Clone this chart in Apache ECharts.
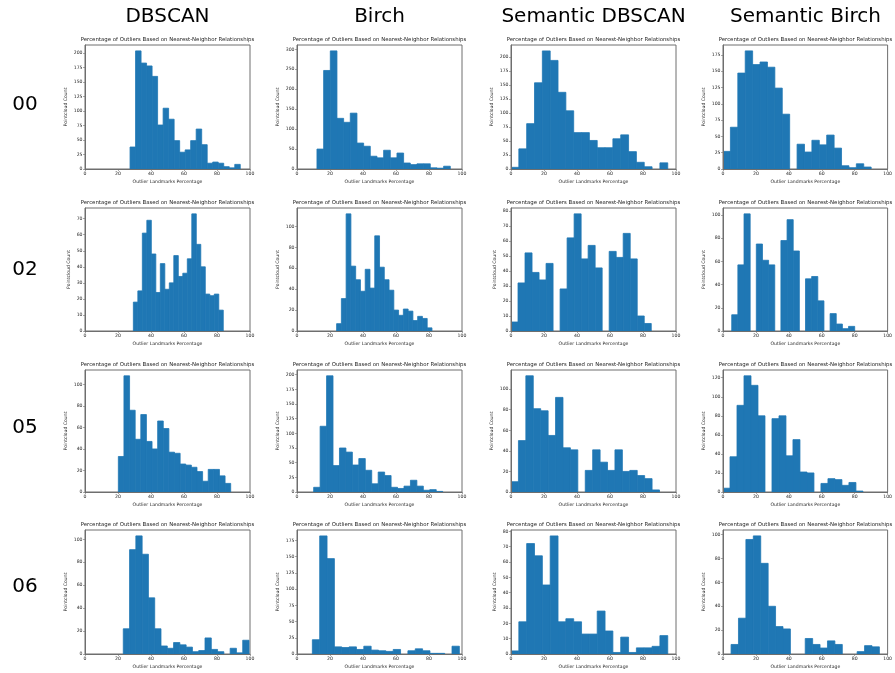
<!DOCTYPE html>
<html>
<head>
<meta charset="utf-8">
<script src="https://cdn.jsdelivr.net/npm/echarts@6/dist/echarts.min.js"></script>
<style>
  html, body { margin: 0; padding: 0; background: #ffffff; }
  #chart { width: 895px; height: 673px; }
</style>
</head>
<body>
<div id="chart"></div>
<script>
// Column (method) and row (sequence) labels
const methods = ['DBSCAN', 'Birch', 'Semantic DBSCAN', 'Semantic Birch'];
const sequences = ['00', '02', '05', '06'];
const subplotTitle = 'Percentage of Outliers Based on Nearest-Neighbor Relationships';
const xAxisTitle = 'Outlier Landmarks Percentage';
const yAxisTitle = 'Pointcloud Count';
const xTicks = [0, 20, 40, 60, 80, 100];

// Each histogram: [first edge, last edge] split into 20 equal bins, and the bin counts
const seq00DbscanRange = [27.3, 94.1];
const seq00DbscanCounts = [38, 204, 183, 178, 160, 76, 105, 86, 49, 29, 33, 49, 69, 42, 10, 12, 10, 4, 2, 8];
const seq00BirchRange = [12.1, 92.9];
const seq00BirchCounts = [50, 247, 296, 127, 117, 140, 65, 57, 32, 28, 47, 28, 40, 15, 11, 13, 13, 3, 2, 7];
const seq00SemDbscanRange = [0, 95];
const seq00SemDbscanCounts = [3, 36, 81, 154, 211, 194, 137, 104, 65, 65, 51, 38, 38, 54, 61, 31, 12, 4, 0, 11];
const seq00SemBirchRange = [0, 90];
const seq00SemBirchCounts = [27, 64, 147, 181, 160, 164, 156, 124, 84, 0, 38, 26, 44, 37, 52, 32, 5, 2, 8, 3];

const seq02DbscanRange = [29.3, 83.8];
const seq02DbscanCounts = [18, 25, 61, 69, 48, 24, 42, 26, 30, 47, 34, 36, 45, 73, 54, 40, 23, 22, 23, 13];
const seq02BirchRange = [24.0, 81.8];
const seq02BirchCounts = [7, 31, 112, 62, 49, 38, 59, 41, 91, 61, 49, 39, 20, 15, 21, 19, 10, 14, 12, 3];
const seq02SemDbscanRange = [0, 85];
const seq02SemDbscanCounts = [6, 32, 52, 39, 34, 45, 0, 28, 62, 78, 48, 57, 42, 0, 53, 49, 65, 48, 10, 5];
const seq02SemBirchRange = [5.3, 80];
const seq02SemBirchCounts = [14, 57, 101, 0, 75, 61, 57, 0, 78, 96, 69, 0, 45, 47, 26, 0, 15, 6, 2, 4];

const seq05DbscanRange = [20.2, 88.3];
const seq05DbscanCounts = [33, 108, 76, 49, 72, 47, 40, 66, 59, 37, 36, 26, 25, 23, 19, 10, 21, 21, 15, 8];
const seq05BirchRange = [10.1, 88.3];
const seq05BirchCounts = [8, 112, 198, 45, 75, 68, 46, 57, 37, 14, 34, 28, 8, 6, 10, 20, 10, 3, 4, 1];
const seq05SemDbscanRange = [0, 90];
const seq05SemDbscanCounts = [10, 50, 113, 81, 79, 55, 92, 43, 41, 0, 21, 41, 29, 21, 41, 20, 21, 16, 13, 2];
const seq05SemBirchRange = [0, 85];
const seq05SemBirchCounts = [4, 37, 91, 122, 112, 80, 0, 77, 80, 38, 55, 21, 20, 0, 9, 14, 13, 7, 10, 1];

const seq06DbscanRange = [23.2, 99.4];
const seq06DbscanCounts = [22, 91, 103, 87, 49, 22, 7, 5, 10, 8, 6, 2, 3, 14, 4, 2, 0, 5, 1, 12];
const seq06BirchRange = [9.3, 98.4];
const seq06BirchCounts = [22, 182, 147, 11, 10, 11, 7, 12, 6, 5, 4, 7, 0, 5, 8, 5, 1, 1, 0, 12];
const seq06SemDbscanRange = [0, 95];
const seq06SemDbscanCounts = [2, 21, 72, 64, 45, 77, 21, 23, 21, 13, 13, 28, 15, 1, 11, 1, 4, 4, 5, 12];
const seq06SemBirchRange = [4.9, 95];
const seq06SemBirchCounts = [8, 30, 96, 99, 76, 40, 23, 21, 0, 0, 13, 8, 5, 11, 8, 0, 0, 2, 7, 6];

// Y tick spacing for each panel (rows = sequences, columns = methods)
const yTickSteps = [
  [25, 50, 25, 25],
  [10, 20, 10, 20],
  [20, 25, 20, 20],
  [20, 25, 10, 20]
];

const panels = [
  [[seq00DbscanRange, seq00DbscanCounts], [seq00BirchRange, seq00BirchCounts], [seq00SemDbscanRange, seq00SemDbscanCounts], [seq00SemBirchRange, seq00SemBirchCounts]],
  [[seq02DbscanRange, seq02DbscanCounts], [seq02BirchRange, seq02BirchCounts], [seq02SemDbscanRange, seq02SemDbscanCounts], [seq02SemBirchRange, seq02SemBirchCounts]],
  [[seq05DbscanRange, seq05DbscanCounts], [seq05BirchRange, seq05BirchCounts], [seq05SemDbscanRange, seq05SemDbscanCounts], [seq05SemBirchRange, seq05SemBirchCounts]],
  [[seq06DbscanRange, seq06DbscanCounts], [seq06BirchRange, seq06BirchCounts], [seq06SemDbscanRange, seq06SemDbscanCounts], [seq06SemBirchRange, seq06SemBirchCounts]]
];

// Panel layout in pixels
const gridLeft = [85, 297, 511, 723];
const gridTop = [45, 208, 370, 530];
const gridHeight = [124, 123, 122, 124];
const gridWidth = 165;
const rowLabelY = [105, 270, 428, 587];

const FONT = 'DejaVu Sans';
const BAR = '#1f77b4';
const SPINE = '#6e6e6e';
const TEXT = '#262626';
const tickFont = 4.6;

const grid = [], xAxis = [], yAxis = [], series = [], graphic = [];

sequences.forEach((seq, r) => {
  methods.forEach((method, c) => {
    const idx = r * methods.length + c;
    const [range, counts] = panels[r][c];
    const binW = (range[1] - range[0]) / counts.length;
    const data = counts.map((n, k) => [range[0] + k * binW, range[0] + (k + 1) * binW, n]);
    const yMax = Math.max(...counts) * 1.05;
    const step = yTickSteps[r][c];
    const yTicks = [];
    for (let v = 0; v <= yMax; v += step) yTicks.push(v);
    const digits = String(yTicks[yTicks.length - 1]).length;

    grid.push({
      left: gridLeft[c], top: gridTop[r], width: gridWidth, height: gridHeight[r],
      show: true, borderColor: SPINE, borderWidth: 1, backgroundColor: '#ffffff'
    });

    xAxis.push({
      gridIndex: idx, type: 'value', min: 0, max: 100,
      z: 5,
      name: xAxisTitle, nameLocation: 'middle', nameGap: 10,
      nameTextStyle: { fontSize: tickFont, color: TEXT, fontFamily: FONT },
      axisLine: { show: true, lineStyle: { color: SPINE, width: 1 } },
      axisTick: { show: true, length: 2, customValues: xTicks, lineStyle: { color: SPINE, width: 0.6 } },
      axisLabel: { fontSize: tickFont, margin: 2.5, color: TEXT, fontFamily: FONT, customValues: xTicks },
      splitLine: { show: false }
    });

    yAxis.push({
      gridIndex: idx, type: 'value', min: 0, max: yMax,
      z: 5,
      name: yAxisTitle, nameLocation: 'middle', nameRotate: 90,
      nameGap: 8 + digits * 2.9,
      nameTextStyle: { fontSize: tickFont, color: TEXT, fontFamily: FONT },
      axisLine: { show: true, lineStyle: { color: SPINE, width: 1 } },
      axisTick: { show: true, length: 2, customValues: yTicks, lineStyle: { color: SPINE, width: 0.6 } },
      axisLabel: { fontSize: tickFont, margin: 2.5, color: TEXT, fontFamily: FONT, customValues: yTicks },
      splitLine: { show: false }
    });

    series.push({
      type: 'custom',
      name: sequences[r] + ' ' + method,
      xAxisIndex: idx, yAxisIndex: idx,
      clip: true,
      encode: { x: [0, 1], y: 2 },
      data: data,
      renderItem: function (params, api) {
        if (!(api.value(2) > 0)) return null;
        const top = api.coord([api.value(0), api.value(2)]);
        const base = api.coord([api.value(1), 0]);
        return {
          type: 'rect',
          shape: { x: top[0], y: top[1], width: base[0] - top[0], height: base[1] - top[1] },
          style: { fill: BAR, stroke: BAR, lineWidth: 0.8 }
        };
      }
    });

    graphic.push({
      type: 'text',
      x: gridLeft[c] + gridWidth / 2, y: gridTop[r] - 5,
      style: {
        text: subplotTitle, fontSize: 5.4, fontFamily: FONT, fill: TEXT,
        align: 'center', verticalAlign: 'middle'
      }
    });
  });
});

// Column headers
methods.forEach((method, c) => {
  graphic.push({
    type: 'text',
    x: gridLeft[c] + gridWidth / 2, y: 17,
    style: { text: method, fontSize: 20, fontFamily: FONT, fill: '#000', align: 'center', verticalAlign: 'middle' }
  });
});

// Row labels
sequences.forEach((seq, r) => {
  graphic.push({
    type: 'text',
    x: 25, y: rowLabelY[r],
    style: { text: seq, fontSize: 20, fontFamily: FONT, fill: '#000', align: 'center', verticalAlign: 'middle' }
  });
});

const chart = echarts.init(document.getElementById('chart'), null, { renderer: 'canvas' });
chart.setOption({
  animation: false,
  backgroundColor: '#ffffff',
  grid: grid,
  xAxis: xAxis,
  yAxis: yAxis,
  series: series,
  graphic: graphic
});
</script>
</body>
</html>
